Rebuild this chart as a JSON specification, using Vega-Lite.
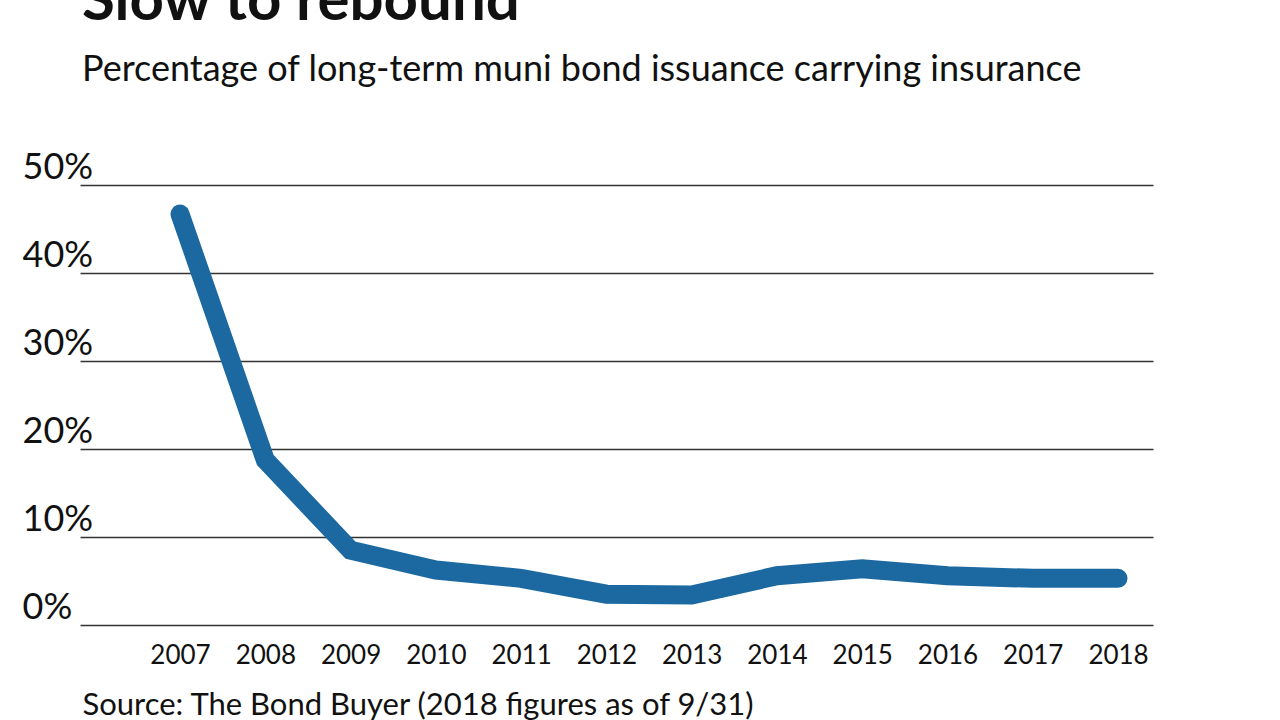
{
  "$schema": "https://vega.github.io/schema/vega-lite/v6.json",
  "width": 1073,
  "height": 440,
  "autosize": {"type": "none"},
  "padding": {"left": 80, "top": 185, "right": 127, "bottom": 95},
  "background": "white",
  "config": {
    "font": "Lato",
    "view": {"stroke": null}
  },
  "title": {
    "text": "Slow to rebound",
    "subtitle": "Percentage of long-term muni bond issuance carrying insurance",
    "anchor": "start",
    "frame": "group",
    "font": "Lato",
    "fontSize": 60,
    "fontWeight": "bold",
    "color": "#111111",
    "subtitleFont": "Lato",
    "subtitleFontSize": 36,
    "subtitleColor": "#111111",
    "subtitlePadding": 20,
    "offset": 60,
    "dx": 2
  },
  "data": {
    "values": [
      {"year": 2007, "pct": 46.7},
      {"year": 2008, "pct": 18.75},
      {"year": 2009, "pct": 8.5},
      {"year": 2010, "pct": 6.25},
      {"year": 2011, "pct": 5.3},
      {"year": 2012, "pct": 3.5},
      {"year": 2013, "pct": 3.4},
      {"year": 2014, "pct": 5.6},
      {"year": 2015, "pct": 6.4},
      {"year": 2016, "pct": 5.6},
      {"year": 2017, "pct": 5.3},
      {"year": 2018, "pct": 5.3}
    ]
  },
  "mark": {"type": "line", "color": "#1c69a1", "strokeWidth": 19, "strokeCap": "round", "strokeJoin": "miter"},
  "encoding": {
    "x": {
      "field": "year",
      "type": "quantitative",
      "scale": {"domain": [2005.827, 2018.41], "nice": false, "zero": false},
      "axis": {
        "values": [2007, 2008, 2009, 2010, 2011, 2012, 2013, 2014, 2015, 2016, 2017, 2018],
        "format": "d",
        "grid": false,
        "domain": false,
        "ticks": false,
        "labelFontSize": 26,
        "labelColor": "#111111",
        "labelPadding": 17,
        "labelBaseline": "top",
        "title": "Source: The Bond Buyer (2018 figures as of 9/31)",
        "titleAnchor": "start",
        "titleAlign": "left",
        "titleFontSize": 31,
        "titleFontWeight": "normal",
        "titleColor": "#111111",
        "titlePadding": 22,
        "titleX": 2
      }
    },
    "y": {
      "field": "pct",
      "type": "quantitative",
      "scale": {"domain": [0, 50], "nice": false},
      "axis": {
        "values": [0, 10, 20, 30, 40, 50],
        "labelExpr": "datum.value + '%'",
        "grid": true,
        "gridColor": "#333333",
        "gridWidth": 1.3,
        "gridOpacity": 1,
        "domain": false,
        "ticks": false,
        "labelAlign": "left",
        "labelBaseline": "alphabetic",
        "labelOffset": -7,
        "labelPadding": 58,
        "labelFontSize": 36,
        "labelColor": "#111111",
        "title": null
      }
    }
  }
}
